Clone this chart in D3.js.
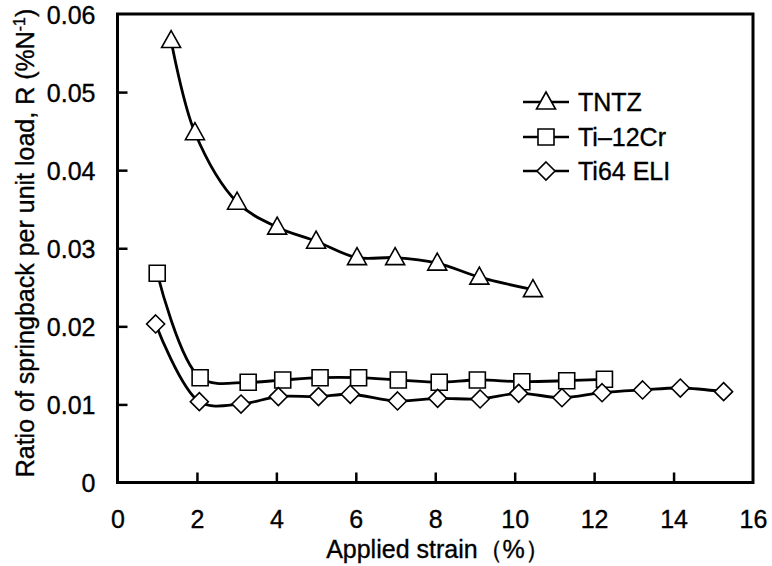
<!DOCTYPE html>
<html>
<head>
<meta charset="utf-8">
<script src="https://cdn.jsdelivr.net/npm/d3@7"></script>
<style>
html,body{margin:0;padding:0;background:#fff;}
svg{display:block;}
text{font-family:"Liberation Sans",Arial,sans-serif;fill:#000;stroke:#000;stroke-width:0.35px;}
</style>
</head>
<body>
<svg id="chart" width="772" height="566"></svg>
<script>
// ---- data ----
const strainTNTZ = [1.35, 1.95, 3.01, 4.02, 5.0, 6.03, 6.99, 8.05, 9.11, 10.46];
const ratioTNTZ  = [0.0566, 0.0448, 0.0359, 0.0327, 0.0309, 0.0288, 0.0288, 0.0281, 0.0263, 0.0247];

const strainCr = [1.0, 2.08, 3.29, 4.16, 5.1, 6.07, 7.07, 8.1, 9.06, 10.18, 11.31, 12.26];
const ratioCr  = [0.0268, 0.01342, 0.01283, 0.01313, 0.01342, 0.01342, 0.01313, 0.01283, 0.01313, 0.01291, 0.01304, 0.01322];

const strainELI = [0.96, 2.06, 3.11, 4.05, 5.06, 5.86, 7.05, 8.06, 9.13, 10.1, 11.19, 12.2, 13.22, 14.17, 15.26];
const ratioELI  = [0.0203, 0.01035, 0.01005, 0.0110, 0.0110, 0.0113, 0.01044, 0.01078, 0.0107, 0.01142, 0.01086, 0.0115, 0.01185, 0.0121, 0.01163];

const seriesNames = ["TNTZ", "Ti\u201312Cr", "Ti64 ELI"];
const seriesMarkers = ["triangle", "square", "diamond"];

const xTicks = [0, 2, 4, 6, 8, 10, 12, 14, 16];
const yTicks = [0, 0.01, 0.02, 0.03, 0.04, 0.05, 0.06];
const xTickLabels = xTicks.map(String);
const yTickLabels = ["0", "0.01", "0.02", "0.03", "0.04", "0.05", "0.06"];

const xTitle = "Applied strain\uFF08%\uFF09";

// ---- layout ----
const svg = d3.select("#chart");
const L = 117.5, R = 753, T = 14, B = 482.5;
const x = d3.scaleLinear().domain([0, 16]).range([L, R]);
const y = d3.scaleLinear().domain([0, 0.06]).range([B, T]);

const series = [
  {name: seriesNames[0], marker: seriesMarkers[0], xs: strainTNTZ, ys: ratioTNTZ},
  {name: seriesNames[1], marker: seriesMarkers[1], xs: strainCr, ys: ratioCr},
  {name: seriesNames[2], marker: seriesMarkers[2], xs: strainELI, ys: ratioELI}
];

function markerPath(type) {
  if (type === "triangle") return "M0,-10L9.5,7L-9.5,7Z";
  if (type === "square") return "M-8,-8H8V8H-8Z";
  return "M0,-9L9,0L0,9L-9,0Z";
}

// axes
const xAxis = d3.axisBottom(x).tickValues(xTicks).tickSize(-10).tickPadding(28)
  .tickFormat((d, i) => xTickLabels[i]);
const yAxis = d3.axisLeft(y).tickValues(yTicks).tickSize(-10).tickPadding(22)
  .tickFormat((d, i) => yTickLabels[i]);

const gx = svg.append("g").attr("transform", `translate(0,${B})`).call(xAxis);
const gy = svg.append("g").attr("transform", `translate(${L},0)`).call(yAxis);
[gx, gy].forEach(g => {
  g.select(".domain").remove();
  g.selectAll(".tick line").attr("stroke", "#000").attr("stroke-width", 2.5);
  g.selectAll(".tick text").style("font-size", "25px").attr("fill", "#000");
});
gx.selectAll(".tick").filter(d => d === 0 || d === 16).select("line").remove();
gy.selectAll(".tick").filter(d => d === 0 || d === 0.06).select("line").remove();
gy.selectAll(".tick text").attr("dy", "0.36em");

// frame
svg.append("rect").attr("x", L).attr("y", T).attr("width", R - L).attr("height", B - T)
  .attr("fill", "none").attr("stroke", "#000").attr("stroke-width", 3);

// lines
const line = d3.line().curve(d3.curveCatmullRom.alpha(0.5));
series.forEach(s => {
  const pts = s.xs.map((v, i) => [x(v), y(s.ys[i])]);
  svg.append("path").attr("d", line(pts)).attr("fill", "none")
    .attr("stroke", "#000").attr("stroke-width", 2.8);
});
series.forEach(s => {
  svg.append("g").selectAll("path").data(s.xs.map((v, i) => [v, s.ys[i]])).join("path")
    .attr("d", markerPath(s.marker))
    .attr("transform", d => `translate(${x(d[0])},${y(d[1])})`)
    .attr("fill", "#fff").attr("stroke", "#000").attr("stroke-width", 1.6);
});

// legend
const legY = [102, 137, 171];
series.forEach((s, i) => {
  const g = svg.append("g").attr("transform", `translate(546,${legY[i]})`);
  g.append("line").attr("x1", -23).attr("x2", 23).attr("stroke", "#000").attr("stroke-width", 2.4);
  g.append("path").attr("d", markerPath(s.marker)).attr("fill", "#fff").attr("stroke", "#000").attr("stroke-width", 1.6);
  g.append("text").attr("x", 32).attr("dy", "0.36em").style("font-size", "25px").text(s.name);
});

// axis titles
svg.append("text").attr("x", 438).attr("y", 558).attr("text-anchor", "middle")
  .style("font-size", "25px").text(xTitle);

const yt = svg.append("text").attr("transform", "translate(34,243) rotate(-90)")
  .attr("text-anchor", "middle").style("font-size", "25px");
yt.append("tspan").text("Ratio of springback per unit load, R (%N");
yt.append("tspan").attr("dy", "-9").style("font-size", "16px").text("-1");
yt.append("tspan").attr("dy", "9").text(")");
</script>
</body>
</html>
